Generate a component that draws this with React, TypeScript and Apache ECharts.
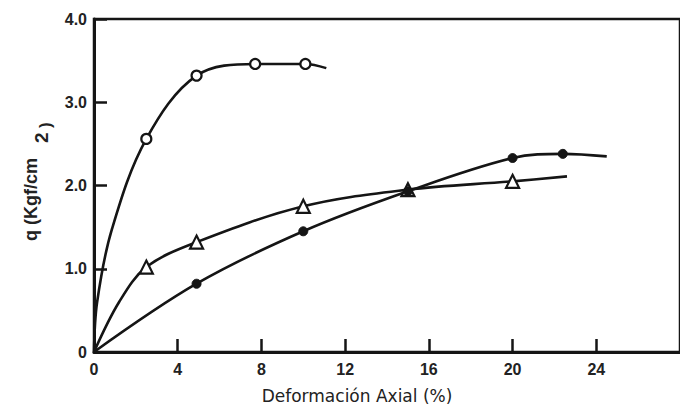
import React, { useEffect, useRef } from "react";
import * as echarts from "echarts";

// Curve 1: open circles (curve points, markers flagged)
const circleCurve: number[][] = [[0, 0], [0.15, 0.6], [0.85, 1.47], [2.5, 2.56], [4.9, 3.32], [7.7, 3.46], [10.1, 3.46], [11.1, 3.41]];
const circleMarks: boolean[] = [false, false, false, true, true, true, true, false];

// Curve 2: open triangles
const triCurve: number[][] = [[0, 0], [1.2, 0.6], [2.5, 1.02], [4.9, 1.32], [10, 1.75], [15, 1.95], [20, 2.05], [22.6, 2.11]];
const triMarks: boolean[] = [false, false, true, true, true, true, true, false];

// Curve 3: filled circles
const dotCurve: number[][] = [[0, 0], [4.9, 0.82], [10, 1.45], [15, 1.93], [20, 2.33], [22.4, 2.38], [24.5, 2.35]];
const dotMarks: boolean[] = [false, true, true, true, true, true, false];

const xTicks = { min: 0, max: 28, interval: 4 };
const yTicks = { min: 0, max: 4, interval: 1 };

const INK = "#151515";

function toData(pts: number[][], marks: boolean[]) {
  return pts.map((p, i) => (marks[i] ? { value: p } : { value: p, symbol: "none" }));
}

export default function App() {
  const ref = useRef<HTMLDivElement>(null);
  useEffect(() => {
    if (!ref.current) return;
    const chart = echarts.init(ref.current, undefined, { renderer: "svg" });
    const lineCommon = {
      type: "line",
      smooth: 0.35,
      lineStyle: { color: INK, width: 2.6 },
      z: 3,
    };
    chart.setOption({
      animation: false,
      backgroundColor: "#ffffff",
      grid: {
        left: 94,
        top: 19,
        width: 589.4,
        height: 333,
        show: true,
        borderColor: INK,
        borderWidth: 2.5,
        backgroundColor: "transparent",
      },
      xAxis: {
        type: "value",
        min: xTicks.min,
        max: xTicks.max,
        interval: xTicks.interval,
        splitLine: { show: false },
        axisLine: { show: true, lineStyle: { color: INK, width: 3 } },
        axisTick: { show: true, inside: true, length: 13, lineStyle: { color: INK, width: 2.5 } },
        axisLabel: {
          show: true,
          showMaxLabel: false,
          margin: 9,
          color: "#222",
          fontSize: 16,
          fontWeight: "bold",
          fontFamily: "Liberation Sans",
        },
      },
      yAxis: {
        type: "value",
        min: yTicks.min,
        max: yTicks.max,
        interval: yTicks.interval,
        splitLine: { show: false },
        axisLine: { show: true, lineStyle: { color: INK, width: 3 } },
        axisTick: { show: true, inside: true, length: 13, lineStyle: { color: INK, width: 2.5 } },
        axisLabel: {
          margin: 7,
          color: "#222",
          fontSize: 16,
          fontWeight: "bold",
          fontFamily: "Liberation Sans",
          formatter: (v: number) => (v === 0 ? "0" : v.toFixed(1)),
        },
      },
      graphic: [
        {
          type: "text",
          x: 31,
          y: 241,
          rotation: Math.PI / 2,
          style: {
            text: "q (Kgf/cm",
            font: 'bold 18px "Liberation Sans"',
            fill: "#222",
            textAlign: "left",
            textVerticalAlign: "middle",
          },
        },
        {
          type: "text",
          x: 41,
          y: 143,
          rotation: Math.PI / 2,
          style: {
            text: "2",
            font: 'bold 19px "Liberation Sans"',
            fill: "#222",
            textAlign: "left",
            textVerticalAlign: "middle",
          },
        },
        {
          type: "text",
          x: 45,
          y: 128,
          rotation: Math.PI / 2,
          style: {
            text: ")",
            font: 'bold 17px "Liberation Sans"',
            fill: "#222",
            textAlign: "left",
            textVerticalAlign: "middle",
          },
        },
        {
          type: "text",
          x: 357,
          y: 396,
          style: {
            text: "Deformación Axial (%)",
            font: '17px "DejaVu Sans"',
            fill: "#222",
            textAlign: "center",
            textVerticalAlign: "middle",
          },
        },
      ],
      series: [
        {
          ...lineCommon,
          name: "circles",
          data: toData(circleCurve, circleMarks),
          symbol: "circle",
          symbolSize: 10,
          itemStyle: { color: "#ffffff", borderColor: INK, borderWidth: 2.2 },
        },
        {
          ...lineCommon,
          name: "triangles",
          data: toData(triCurve, triMarks),
          symbol: "triangle",
          symbolSize: 13,
          itemStyle: { color: "#ffffff", borderColor: INK, borderWidth: 2.2 },
        },
        {
          ...lineCommon,
          name: "dots",
          data: toData(dotCurve, dotMarks),
          symbol: "circle",
          symbolSize: 9,
          itemStyle: { color: INK, borderColor: INK, borderWidth: 1 },
        },
      ],
    });
    return () => chart.dispose();
  }, []);
  return (
    <div
      ref={ref}
      style={{ position: "absolute", left: 0, top: 0, width: 680, height: 411, background: "#fff" }}
    />
  );
}
